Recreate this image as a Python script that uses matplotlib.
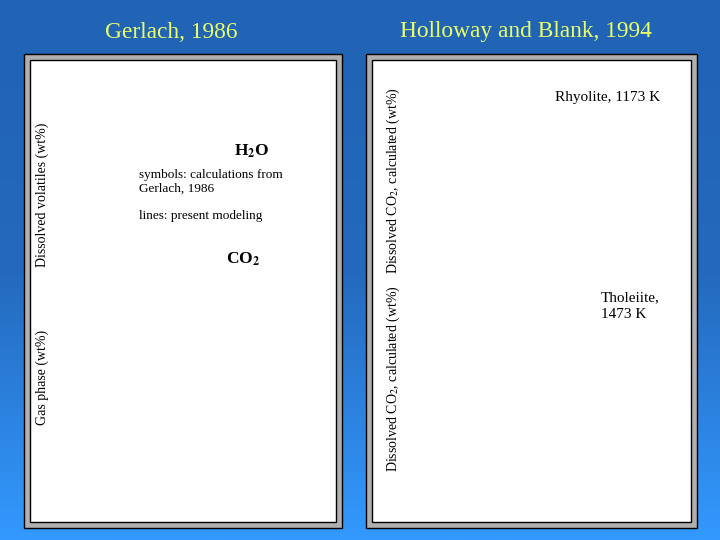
import numpy as np
import matplotlib.pyplot as plt
from matplotlib.patches import Rectangle
from matplotlib.colors import LinearSegmentedColormap

# slide texts
titles = ['Gerlach, 1986', 'Holloway and Blank, 1994']
left_ylabels = ['Dissolved volatiles (wt%)', 'Gas phase (wt%)']
right_ylabels = ['Dissolved CO$_2$, calculated (wt%)', 'Dissolved CO$_2$, calculated (wt%)']
species = ['H$_\\mathbf{2}$O', 'CO$_\\mathbf{2}$']
notes = ['symbols: calculations from\nGerlach, 1986', 'lines: present modeling']
melts = ['Rhyolite, 1173 K', 'Tholeiite,\n1473 K']

plt.rcParams['font.family'] = ['Liberation Serif', 'DejaVu Serif']
plt.rcParams['mathtext.fontset'] = 'stix'

fig = plt.figure(figsize=(7.2, 5.4), dpi=100)
ax = fig.add_axes([0, 0, 1, 1])
ax.set_xlim(0, 720)
ax.set_ylim(540, 0)
ax.axis('off')

# blue gradient background
grad = np.linspace(0, 1, 256).reshape(-1, 1)
bg = LinearSegmentedColormap.from_list('bg', ['#2163b4', '#2469bd', '#3399ff'])
ax.imshow(grad, cmap=bg, extent=[0, 720, 540, 0], aspect='auto', zorder=0)

# panels: outer gray frame, inner white area
for x0, x1 in [(24, 342), (366, 697)]:
    ax.add_patch(Rectangle((x0, 54), x1 - x0, 474, facecolor='#b0b0b0',
                           edgecolor='black', lw=1, zorder=1))
    ax.add_patch(Rectangle((x0 + 6, 60), x1 - x0 - 12, 462, facecolor='white',
                           edgecolor='black', lw=1, zorder=2))

ylw = '#e8ff6a'
ax.text(171, 32, titles[0], color=ylw, fontsize=16.8, ha='center', va='center', zorder=3)
ax.text(526, 32, titles[1], color=ylw, fontsize=16.8, ha='center', va='center', zorder=3)

# left panel
ax.text(42, 195, left_ylabels[0], rotation=90, fontsize=10, ha='center', va='center', zorder=3)
ax.text(42, 377, left_ylabels[1], rotation=90, fontsize=10, ha='center', va='center', zorder=3)
ax.text(252, 151, species[0], fontsize=12.5, fontweight='bold', ha='center', va='center', zorder=3)
ax.text(139, 182, notes[0], fontsize=9.5, ha='left', va='center', linespacing=1.2, zorder=3)
ax.text(139, 216, notes[1], fontsize=9.5, ha='left', va='center', zorder=3)
ax.text(243, 259, species[1], fontsize=12.5, fontweight='bold', ha='center', va='center', zorder=3)

# right panel
ax.text(393, 181, right_ylabels[0], rotation=90, fontsize=10, ha='center', va='center', zorder=3)
ax.text(393, 379, right_ylabels[1], rotation=90, fontsize=10, ha='center', va='center', zorder=3)
ax.text(608, 98, melts[0], fontsize=11, ha='center', va='center', zorder=3)
ax.text(601, 306, melts[1], fontsize=11, ha='left', va='center', linespacing=1.3, zorder=3)

fig.savefig('out.png', dpi=100)
